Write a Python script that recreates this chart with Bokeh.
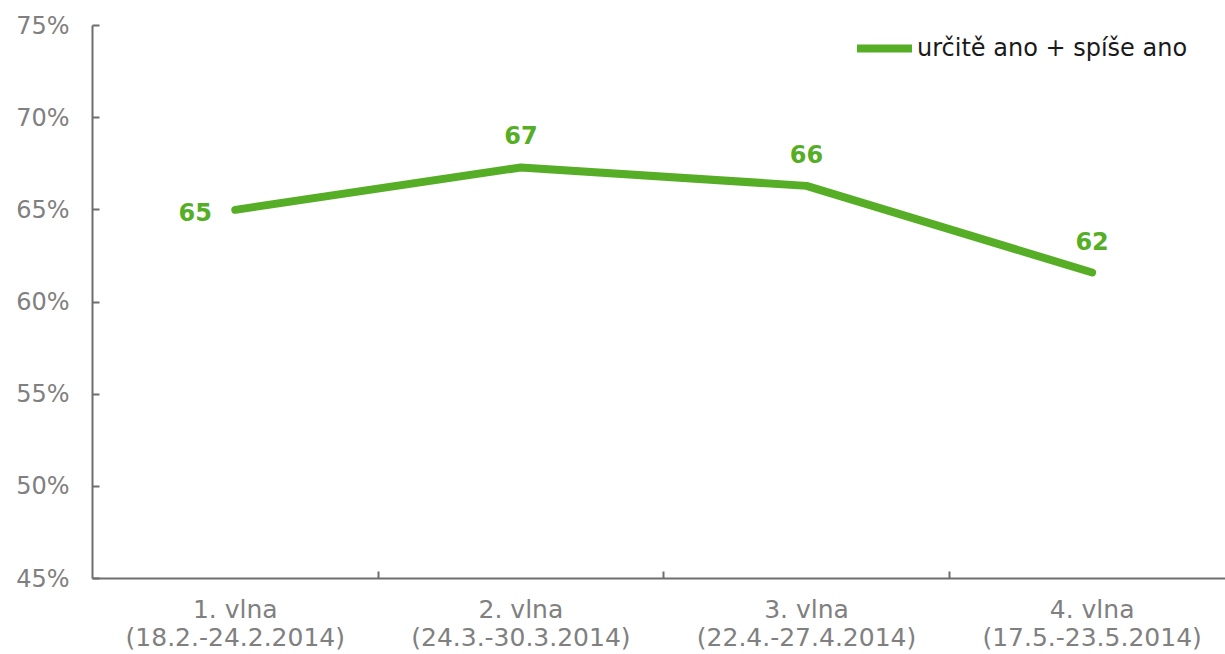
from bokeh.plotting import figure
from bokeh.models import (Range1d, FixedTicker, PrintfTickFormatter, Legend,
                          LegendItem, ColumnDataSource)
from bokeh.embed import file_html
from bokeh.resources import INLINE
from bokeh.core.properties import value

# ---- data ----
waves = ["1. vlna\n(18.2.-24.2.2014)", "2. vlna\n(24.3.-30.3.2014)",
         "3. vlna\n(22.4.-27.4.2014)", "4. vlna\n(17.5.-23.5.2014)"]
series_name = "určitě ano + spíše ano"
values = [65.0, 67.3, 66.3, 61.6]
value_labels = ["65", "67", "66", "62"]
y_ticks = [45, 50, 55, 60, 65, 70, 75]

# ---- style ----
GREEN = "#55AE25"
FONT = "DejaVu Sans"
AXIS_COLOR = "#6e6e6e"
LABEL_COLOR = "#808080"

xpos = [i + 0.5 for i in range(len(waves))]
boundaries = [i for i in range(1, len(waves))]

src = ColumnDataSource(dict(x=xpos, y=values, label=value_labels))
first = ColumnDataSource(dict(x=xpos[:1], y=values[:1], label=value_labels[:1]))
rest = ColumnDataSource(dict(x=xpos[1:], y=values[1:], label=value_labels[1:]))

p = figure(width=1225, height=654, output_backend="svg", toolbar_location=None,
           x_range=Range1d(0, 3.967), y_range=Range1d(45, 75),
           min_border_left=92, min_border_right=0, min_border_top=25,
           min_border_bottom=76)
p.outline_line_color = None
p.grid.visible = False
p.background_fill_color = "white"
p.border_fill_color = "white"

r = p.line('x', 'y', source=src, line_width=8, line_color=GREEN,
           line_cap="round", line_join="round")

common = dict(text='label', text_align="center", text_baseline="middle",
              text_font=value(FONT), text_font_size="24px",
              text_font_style="bold", text_color=GREEN)
p.text('x', 'y', source=first, x_offset=-40, y_offset=2, **common)
p.text('x', 'y', source=rest, y_offset=-32, **common)

# x axis
xa = p.xaxis[0]
xa.ticker = FixedTicker(ticks=xpos, minor_ticks=boundaries)
xa.major_label_overrides = {x: w for x, w in zip(xpos, waves)}
xa.major_tick_line_color = None
xa.major_tick_in = 0
xa.major_tick_out = 0
xa.minor_tick_in = 7
xa.minor_tick_out = 0
xa.minor_tick_line_color = AXIS_COLOR
xa.minor_tick_line_width = 2
xa.axis_line_color = AXIS_COLOR
xa.axis_line_width = 2
xa.major_label_text_font = FONT
xa.major_label_text_font_size = "25px"
xa.major_label_text_color = LABEL_COLOR
xa.major_label_text_line_height = 0.98
xa.major_label_standoff = 16

# y axis
ya = p.yaxis[0]
ya.ticker = FixedTicker(ticks=y_ticks)
ya.formatter = PrintfTickFormatter(format="%d%%")
ya.major_tick_in = 7
ya.major_tick_out = 0
ya.major_tick_line_color = AXIS_COLOR
ya.major_tick_line_width = 2
ya.minor_tick_line_color = None
ya.axis_line_color = AXIS_COLOR
ya.axis_line_width = 2
ya.major_label_text_font = FONT
ya.major_label_text_font_size = "24px"
ya.major_label_text_color = LABEL_COLOR
ya.major_label_standoff = 23

legend = Legend(items=[LegendItem(label=series_name, renderers=[r])],
                location=(765, 516), glyph_width=55, glyph_height=24,
                label_standoff=5, padding=0, margin=0, spacing=0,
                background_fill_alpha=0, border_line_color=None,
                label_text_font=FONT, label_text_font_size="24px",
                label_text_color="#1a1a1a")
p.add_layout(legend)

open("out.html", "w").write(file_html(p, INLINE))
